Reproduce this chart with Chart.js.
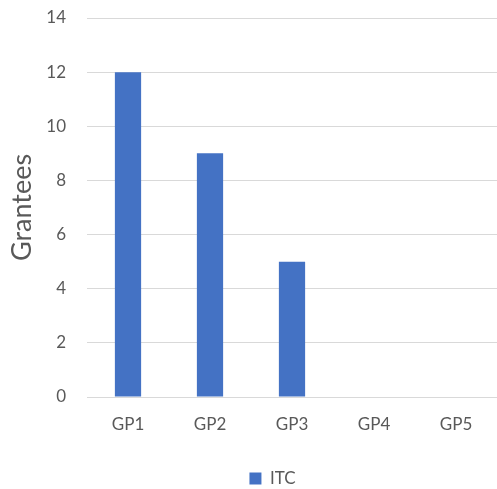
<!DOCTYPE html>
<html>
<head>
<meta charset="utf-8">
<script src="https://cdn.jsdelivr.net/npm/chart.js@4.4.1/dist/chart.umd.min.js"></script>
<style>
  html, body { margin: 0; padding: 0; background: #fff; }
  #wrap { width: 497px; height: 489px; }
</style>
</head>
<body>
<div id="wrap"><canvas id="chart"></canvas></div>
<script>
// Chart data
const categories = ['GP1', 'GP2', 'GP3', 'GP4', 'GP5'];
const itcValues = [12, 9, 5, 0, 0];
const yTicks = [0, 2, 4, 6, 8, 10, 12, 14];

const textColor = '#595959';
const gridColor = '#d9d9d9';
const barColor = '#4472c4';
const fontFamily = 'Lato, "Open Sans", sans-serif';

// nudge the legend to the right, as in the original
const legendShift = {
  id: 'legendShift',
  afterLayout(chart) {
    if (!chart.legend) return;
    chart.legend.left += 24;
    chart.legend.right += 24;
  },
};

const ctx = document.getElementById('chart');
new Chart(ctx, {
  type: 'bar',
  data: {
    labels: categories,
    datasets: [
      {
        label: 'ITC',
        data: itcValues,
        backgroundColor: barColor,
        borderWidth: 0,
        categoryPercentage: 1,
        barPercentage: 0.32,
      },
    ],
  },
  options: {
    animation: false,
    responsive: true,
    maintainAspectRatio: false,
    layout: {
      padding: { top: 18, right: 0, bottom: -8, left: 0 },
    },
    scales: {
      y: {
        min: 0,
        max: 14,
        afterBuildTicks: (scale) => {
          scale.ticks = yTicks.map((v) => ({ value: v }));
        },
        afterFit: (scale) => {
          scale.width = 87;
          scale.paddingTop = 0;
          scale.paddingBottom = 0;
        },
        grid: {
          color: gridColor,
          lineWidth: 1,
          drawTicks: false,
        },
        border: { display: false },
        ticks: {
          color: textColor,
          font: { family: fontFamily, size: 17 },
          padding: 21,
        },
        title: {
          display: true,
          text: 'Grantees',
          color: textColor,
          font: { family: fontFamily, size: 27 },
          padding: { top: 6, bottom: 0 },
        },
      },
      x: {
        grid: { display: false, drawTicks: false },
        border: { display: true, color: gridColor, width: 1 },
        ticks: {
          color: textColor,
          font: { family: fontFamily, size: 17 },
          padding: 17,
        },
        afterFit: (scale) => {
          scale.height = 70;
        },
      },
    },
    plugins: {
      legend: {
        position: 'bottom',
        labels: {
          color: textColor,
          font: { family: fontFamily, size: 17 },
          boxWidth: 12,
          boxHeight: 12,
          padding: 3,
        },
      },
      tooltip: { enabled: false },
    },
  },
  plugins: [legendShift],
});
</script>
</body>
</html>
